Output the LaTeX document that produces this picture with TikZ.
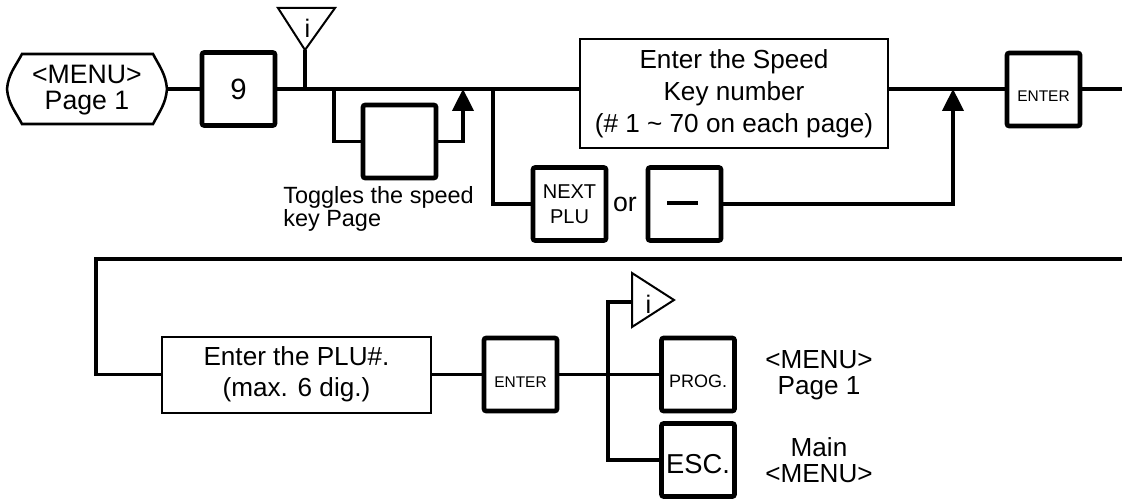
\documentclass[tikz,border=0pt]{standalone}
\usepackage{fontspec}
\setmainfont{Liberation Sans}
\usetikzlibrary{arrows.meta}
\newcommand\pxu{0.75pt}
\newcommand\fbig[1]{\fontsize{19.6pt}{#1}\selectfont}
\newcommand\fsm{\fontsize{11.6pt}{14pt}\selectfont}
\newcommand\fmid{\fontsize{15pt}{19pt}\selectfont}
\newcommand\ftog{\fontsize{17.6pt}{15.75pt}\selectfont}
\tikzset{
  conn/.style={line width=2.4pt},
  arr/.style={conn,-{Triangle[width=16pt,length=16.5pt]}},
  key/.style={draw,line width=3.4pt,rounded corners=1.5pt,inner sep=0pt,
    minimum width=73*\pxu,minimum height=73*\pxu,align=center,font={\fbig{24pt}}},
  keysm/.style={key,font=\fsm,text height=18.75pt,text depth=0pt},
  tbox/.style={draw,line width=1.5pt,inner sep=0pt,align=center},
  tri/.style={draw,line width=1.5pt},
  lbl/.style={inner sep=0pt,align=center}
}
\begin{document}
\begin{tikzpicture}[x=0.75pt,y=-0.75pt]
\useasboundingbox (0,0) rectangle (1122,499);
% ---------- row 1 ----------
\draw[line width=1.9pt] (22,54) -- (153,54) to[out=-62,in=95] (167,89)
  to[out=-95,in=62] (153,124) -- (22,124) to[out=118,in=-85] (7,89)
  to[out=85,in=-118] (22,54) -- cycle;
\node[lbl,minimum width=160*\pxu,font={\fontsize{20pt}{20pt}\selectfont}] (menu) at (87,90) {<MENU>\\Page 1};
\node[key,font={\fontsize{22pt}{24pt}\selectfont}] (k9) at (238.5,89) {9};
% info triangle top
\draw[tri] (278,8) -- (335,8) -- (305,50) -- cycle;
\coordinate (ta) at (305,50);
\node[lbl,font=\fontsize{19pt}{20pt}\selectfont] (it1) at (307.5,28) {i};
\node[key] (tog) at (399.5,141.5) {};
\node[lbl,anchor=north west,align=left,font=\ftog] (togtxt) at (283,186.5) {Toggles the speed\\key Page};
\node[key,font=\fmid] (nxt) at (569.5,204) {NEXT\\PLU};
\node[lbl,font=\fontsize{20pt}{22pt}\selectfont] (ortxt) at (625,204) {or};
\node[key] (dash) at (684.5,204) {};
\draw[line width=3pt] (667,203) -- (698,203);
\node[tbox,minimum width=308*\pxu,minimum height=109*\pxu,font={\fbig{24pt}}] (speed) at (734,93.5)
  {Enter the Speed\\Key number\\(\# 1 \textasciitilde{} 70 on each page)};
\node[keysm] (ent1) at (1043.5,89.5) {ENTER};
\coordinate (j1) at (305,89);
\coordinate (j2) at (334,89);
\coordinate (j3) at (463,89);
\coordinate (j4) at (493,89);
\coordinate (j5) at (953,89);
\coordinate (rend) at (1122,89);
\draw[conn] (menu.east |- j1) -- (k9.west |- j1);
\draw[conn] (k9.east |- j1) -- (speed.west |- j1);
\draw[conn] (ta) -- (j1);
\draw[conn] (j2) |- (tog.west);
\draw[arr] (tog.east) -| (j3);
\draw[conn] (j4) |- (nxt.west);
\draw[arr] (dash.east) -| (j5);
\draw[conn] (speed.east |- j5) -- (ent1.west |- j5);
\draw[conn] (ent1.east |- rend) -- (rend);
% ---------- row 2 ----------
\coordinate (r2r) at (1122,259);
\coordinate (r2l) at (96,259);
\node[tbox,minimum width=269*\pxu,minimum height=76*\pxu,font={\fbig{23pt}}] (plu) at (296.5,374.5)
  {Enter the PLU\#.\\(max. 6 dig.)};
\node[keysm] (ent2) at (520.5,374.5) {ENTER};
\node[keysm,font=\fontsize{13.5pt}{16pt}\selectfont] (prog) at (698,374.5) {PROG.};
\node[key,font={\fontsize{20.5pt}{24pt}\selectfont},text height=20.5pt,text depth=0pt] (esc) at (698,460) {ESC.};
\draw[tri] (632,273) -- (674,300) -- (632,327) -- cycle;
\coordinate (tb) at (632,302);
\node[lbl,font=\fontsize{19pt}{20pt}\selectfont] (it2) at (648.5,304) {i};
\coordinate (j6) at (608,302);
\coordinate (j7) at (608,460);
\node[lbl,font={\fbig{19.5pt}}] (progtxt) at (819,375) {<MENU>\\Page 1};
\node[lbl,font={\fbig{19.5pt}}] (esctxt) at (819,460.5) {Main\\<MENU>};
\draw[conn] (r2r) -- (r2l) |- (plu.west);
\draw[conn] (plu.east) -- (ent2.west);
\draw[conn] (ent2.east) -- (prog.west);
\draw[conn] (tb) -- (j6) -- (j7) -- (esc.west);
\end{tikzpicture}
\end{document}
